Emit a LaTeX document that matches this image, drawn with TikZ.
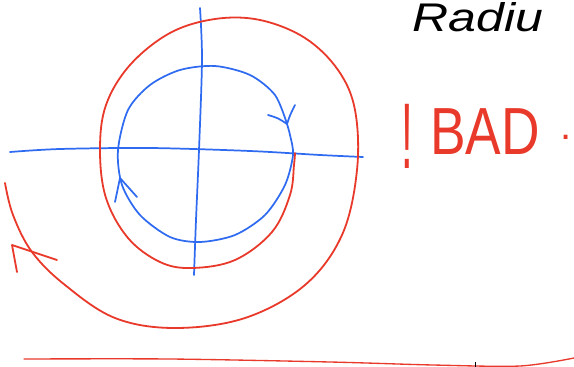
\documentclass[tikz,border=0pt]{standalone}
\usepackage{fontspec}
\setmainfont{Liberation Sans}
\definecolor{penred}{HTML}{E8392A}
\definecolor{penblue}{HTML}{2F6BF0}
\begin{document}
\begin{tikzpicture}[x=0.75pt,y=-0.75pt,
  redpen/.style={draw=penred,line width=1.35pt,line cap=round,line join=round},
  bluepen/.style={draw=penblue,line width=1.3pt,line cap=round,line join=round}]
\useasboundingbox (0,0) rectangle (574,367);
% axes
\draw[bluepen] plot[smooth] coordinates {(10,152) (60,149) (150,148) (250,151) (320,155) (363,157)};
\draw[bluepen] plot[smooth] coordinates {(200,8) (202,60) (199,150) (196,220) (194,275)};
% blue circle
\draw[bluepen] plot[smooth] coordinates {(287,124) (275,95) (250,75) (215,66) (180,70) (150,85) (128,110) (118,150) (122,185) (140,215) (170,237) (200,242) (235,235) (265,215) (285,185) (293,155) (290,135) (287,124)};
\coordinate (ta) at (287,124);
\coordinate (tb) at (268,115);
\coordinate (tc) at (295,105);
\draw[bluepen] (tb) .. controls (278,118) .. (ta) .. controls (290,115) .. (tc);
\coordinate (la) at (120,178);
\coordinate (lb) at (115,202);
\coordinate (lc) at (137,197);
\draw[bluepen] (lb) -- (la) -- (lc);
% red spiral
\draw[redpen] plot[smooth,tension=0.6] coordinates {(295,153) (294,165) (290,195) (272,232) (235,260) (192,268) (160,262) (128,238) (106,198) (100,150) (106,105) (130,65) (170,33) (215,19) (260,20) (305,38) (338,70) (355,110) (357,170) (342,235) (305,285) (245,318) (175,328) (115,318) (65,285) (32,252) (13,215) (5,183)};
\coordinate (ra) at (12,245);
\coordinate (rb) at (17,272);
\coordinate (rc) at (57,260);
\draw[redpen] (rb) -- (ra) -- (rc);
% red baseline
\draw[redpen,line width=1pt] plot[smooth] coordinates {(24,359) (170,359) (330,362) (433,365) (520,366) (574,358)};
\coordinate (k1) at (475,362);
\coordinate (k2) at (475,367);
\draw[black,line width=0.4pt] (k1) -- (k2);
% texts
\node[anchor=base west,inner sep=0pt,xscale=1.25,font=\fontsize{30}{32}\selectfont\itshape] (rad) at (412,32) {Radiu};
\node[anchor=base west,inner sep=0pt,text=penred,xscale=0.45,font=\fontsize{70}{72}\selectfont] (excl) at (401,168) {!};
\node[anchor=base west,inner sep=0pt,text=penred,xscale=0.8,font=\fontsize{50}{52}\selectfont] (bad) at (430,155) {BAD};
\node[anchor=base west,inner sep=0pt,text=penred,font=\fontsize{30}{32}\selectfont] (dot) at (560,140) {.};
\end{tikzpicture}
\end{document}
